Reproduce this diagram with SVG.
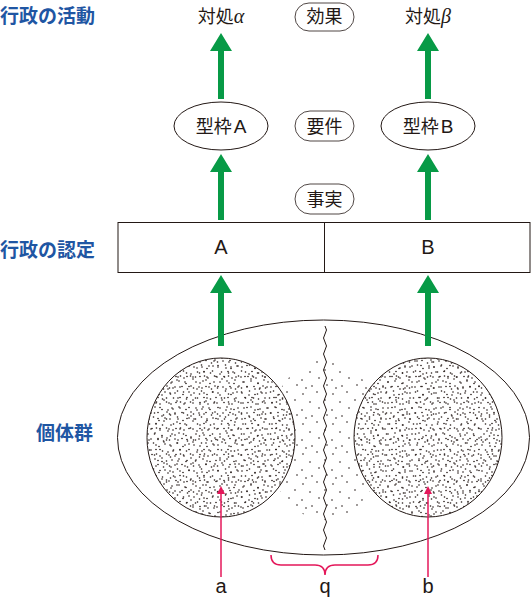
<svg xmlns="http://www.w3.org/2000/svg" width="531" height="601" viewBox="0 0 531 601">
<style>
.lbl{font-family:"Noto Sans CJK JP","Noto Sans",sans-serif;font-size:19px;font-weight:bold;fill:#1f56a3}
.t{font-family:"Noto Sans CJK JP","Noto Sans",sans-serif;font-size:18px;fill:#231815}
.la{font-family:"Liberation Sans","Noto Sans",sans-serif;font-size:19px}
.lt{font-family:"Liberation Sans","Noto Sans",sans-serif;font-size:20px;fill:#231815}
.ln{fill:none;stroke:#231815;stroke-width:1}
.pill{fill:#fff;stroke:#231815;stroke-width:0.8}
.g{fill:#079a46}
.r{fill:none;stroke:#e4175a;stroke-width:1.5}
</style>
<defs>
<pattern id="pa" width="24" height="26" patternUnits="userSpaceOnUse">
<g fill="#231815">
<circle cx="2" cy="3" r="0.8"/><circle cx="9.5" cy="1" r="0.8"/><circle cx="15" cy="4.5" r="0.8"/><circle cx="21" cy="2" r="0.8"/>
<circle cx="5.5" cy="8" r="0.8"/><circle cx="12" cy="7.5" r="0.8"/><circle cx="18.5" cy="9" r="0.8"/><circle cx="1" cy="13" r="0.8"/>
<circle cx="8" cy="12.5" r="0.8"/><circle cx="16" cy="14" r="0.8"/><circle cx="22.5" cy="12" r="0.8"/><circle cx="4" cy="18" r="0.8"/>
<circle cx="11" cy="17" r="0.8"/><circle cx="18" cy="19.5" r="0.8"/><circle cx="23" cy="22" r="0.8"/><circle cx="7" cy="23" r="0.8"/>
<circle cx="14" cy="22.5" r="0.8"/><circle cx="19.5" cy="25" r="0.8"/><circle cx="1.5" cy="24" r="0.8"/><circle cx="12.5" cy="12" r="0.8"/>
</g>
</pattern>
<pattern id="pb" width="29" height="21" patternUnits="userSpaceOnUse">
<g fill="#231815">
<circle cx="3" cy="2" r="0.8"/><circle cx="11" cy="4" r="0.8"/><circle cx="19" cy="1" r="0.8"/><circle cx="26" cy="5" r="0.8"/>
<circle cx="6" cy="9" r="0.8"/><circle cx="15" cy="8.5" r="0.8"/><circle cx="23" cy="11" r="0.8"/><circle cx="1" cy="15" r="0.8"/>
<circle cx="9.5" cy="14" r="0.8"/><circle cx="17" cy="17" r="0.8"/><circle cx="25.5" cy="16" r="0.8"/><circle cx="4" cy="20" r="0.8"/>
<circle cx="13" cy="19.5" r="0.8"/><circle cx="21.5" cy="20" r="0.8"/><circle cx="28" cy="10" r="0.8"/>
</g>
</pattern>
<pattern id="pm" width="30" height="30" patternUnits="userSpaceOnUse">
<g fill="#231815">
<circle cx="3" cy="4" r="0.8"/><circle cx="17" cy="2" r="0.8"/><circle cx="25" cy="10" r="0.8"/><circle cx="10" cy="12" r="0.8"/>
<circle cx="2" cy="20" r="0.8"/><circle cx="19" cy="18" r="0.8"/><circle cx="12" cy="26" r="0.8"/><circle cx="27" cy="25" r="0.8"/>
<circle cx="6" cy="28" r="0.8"/>
</g>
</pattern>
<clipPath id="cl"><ellipse cx="221" cy="437.5" rx="74" ry="79.5"/></clipPath>
<clipPath id="cr"><ellipse cx="428" cy="437.5" rx="74" ry="79.5"/></clipPath>
</defs>

<g id="labels">
<text class="lbl" x="0" y="23">行政の活動</text>
<text class="lbl" x="0" y="257">行政の認定</text>
<text class="lbl" x="36" y="440">個体群</text>
</g>

<g id="taisho-alpha"><text class="t" x="221" y="23" text-anchor="middle">対処<tspan font-style="italic" font-family="Liberation Serif, serif" font-size="20">α</tspan></text></g>
<g id="taisho-beta"><text class="t" x="428" y="23" text-anchor="middle">対処<tspan font-style="italic" font-family="Liberation Serif, serif" font-size="20">β</tspan></text></g>

<g id="kouka"><rect class="pill" x="295" y="3" width="59" height="28" rx="14"/><text class="t" x="324.5" y="23" text-anchor="middle">効果</text></g>
<g id="youken"><rect class="pill" x="295" y="111" width="59" height="30" rx="15"/><text class="t" x="324.5" y="132.5" text-anchor="middle">要件</text></g>
<g id="jijitsu"><rect class="pill" x="295" y="184" width="59" height="30" rx="15"/><text class="t" x="324.5" y="205.5" text-anchor="middle">事実</text></g>

<g id="katawakuA"><ellipse class="ln" cx="221" cy="126" rx="47" ry="24" fill="#fff"/><text class="t" x="221" y="132.5" text-anchor="middle">型枠<tspan class="la" dx="2">A</tspan></text></g>
<g id="katawakuB"><ellipse class="ln" cx="428" cy="126" rx="47" ry="24" fill="#fff"/><text class="t" x="428" y="132.5" text-anchor="middle">型枠<tspan class="la" dx="2">B</tspan></text></g>

<g id="nintei">
<rect class="ln" x="118" y="222.5" width="412" height="50" fill="#fff"/>
<line class="ln" x1="324.5" y1="222.5" x2="324.5" y2="272.5"/>
<text class="lt" x="221" y="254" text-anchor="middle" font-size="19">A</text>
<text class="lt" x="428" y="254" text-anchor="middle" font-size="19">B</text>
</g>

<g id="population">
<ellipse class="ln" cx="323.5" cy="437.5" rx="206" ry="117.5" fill="#fff"/>
<ellipse cx="325" cy="440" rx="58" ry="80" fill="url(#pm)"/>
<path class="ln" d="M325,326 q3,4 0,8 t0,8 t0,8 t0,8 t0,8 t0,8 t0,8 t0,8 t0,8 t0,8 t0,8 t0,8 t0,8 t0,8 t0,8 t0,8 t0,8 t0,8 t0,8 t0,8 t0,8 t0,8 t0,8 t0,8 t0,8 t0,8 t0,8 t0,8"/>
<g id="groupA">
<ellipse cx="221" cy="437.5" rx="74" ry="79.5" fill="#fff"/>
<rect x="145" y="356" width="152" height="164" fill="url(#pa)" clip-path="url(#cl)"/>
<rect x="145" y="356" width="152" height="164" fill="url(#pb)" clip-path="url(#cl)"/>
<ellipse class="ln" cx="221" cy="437.5" rx="74" ry="79.5"/>
</g>
<g id="groupB">
<ellipse cx="428" cy="437.5" rx="74" ry="79.5" fill="#fff"/>
<rect x="352" y="356" width="152" height="164" fill="url(#pa)" clip-path="url(#cr)"/>
<rect x="352" y="356" width="152" height="164" fill="url(#pb)" clip-path="url(#cr)"/>
<ellipse class="ln" cx="428" cy="437.5" rx="74" ry="79.5"/>
</g>
</g>

<g id="connectors">
<polygon class="g" points="218,99 224,99 224,51 232,51 221,33 210,51 218,51"/>
<polygon class="g" points="425,99 431,99 431,51 439,51 428,33 417,51 425,51"/>
<polygon class="g" points="218,220 224,220 224,172 232,172 221,154 210,172 218,172"/>
<polygon class="g" points="425,220 431,220 431,172 439,172 428,154 417,172 425,172"/>
<polygon class="g" points="218,346 224,346 224,293 232,293 221,275 210,293 218,293"/>
<polygon class="g" points="425,346 431,346 431,293 439,293 428,275 417,293 425,293"/>
<line class="r" x1="221" y1="577" x2="221" y2="492"/>
<polygon fill="#e4175a" points="221,486 225,494 217,494"/>
<line class="r" x1="428" y1="577" x2="428" y2="492"/>
<polygon fill="#e4175a" points="428,486 432,494 424,494"/>
<path class="r" d="M271,555 Q271,565 281,565 L315,565 Q325,565 325,575 Q325,565 335,565 L368,565 Q378,565 378,555"/>
</g>

<g id="bottom-labels">
<text class="lt" x="221" y="593" text-anchor="middle">a</text>
<text class="lt" x="325" y="593" text-anchor="middle">q</text>
<text class="lt" x="428" y="593" text-anchor="middle">b</text>
</g>
</svg>
